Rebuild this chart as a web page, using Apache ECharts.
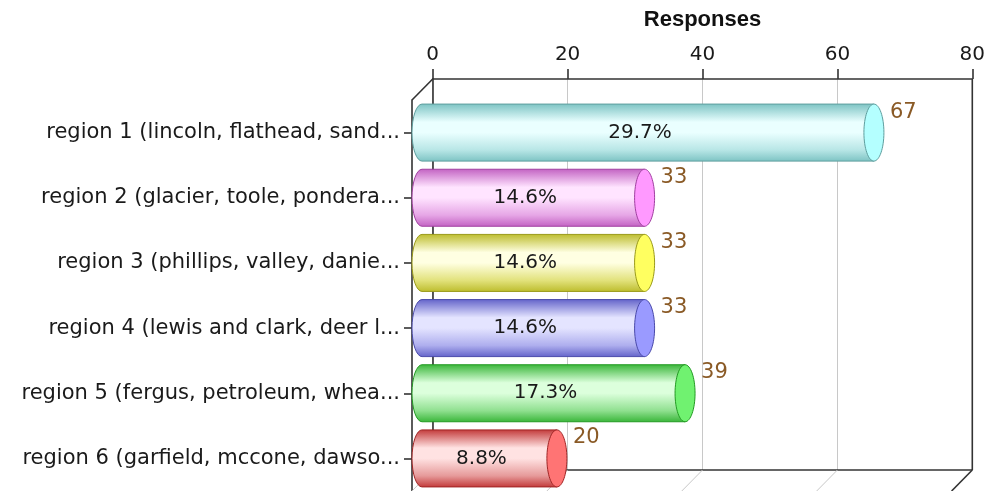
<!DOCTYPE html>
<html>
<head>
<meta charset="utf-8">
<title>Responses</title>
<script src="https://cdn.jsdelivr.net/npm/echarts@6/dist/echarts.min.js"></script>
<style>
  html, body { margin: 0; padding: 0; background: #fff; }
  #main { width: 1007px; height: 491px; }
</style>
</head>
<body>
<div id="main"></div>
<script>
// data
var categories = [
    'region 1 (lincoln, flathead, sand...',
    'region 2 (glacier, toole, pondera...',
    'region 3 (phillips, valley, danie...',
    'region 4 (lewis and clark, deer l...',
    'region 5 (fergus, petroleum, whea...',
    'region 6 (garfield, mccone, dawso...'
];
var responses = [67, 33, 33, 33, 39, 20];
var percents = ['29.7%', '14.6%', '14.6%', '14.6%', '17.3%', '8.8%'];
var xTicks = [0, 20, 40, 60, 80];

// cylinder colours: dark edge, light centre, end cap
var edgeColors = ['#7cc3c3', '#c261c2', '#bcbc2c', '#6262c9', '#38b538', '#c23838'];
var midColors = ['#b8e6e6', '#e6a6e6', '#e2e27c', '#aeaeee', '#90e090', '#e69a9a'];
var lightColors = ['#eaffff', '#ffe4ff', '#ffffe2', '#e4e4ff', '#dcffdc', '#ffe2e2'];
var capColors = ['#b4ffff', '#ff99ff', '#ffff60', '#9a9aff', '#70f270', '#ff7474'];
var lineColors = ['#5e9e9e', '#a040a0', '#9a9a1a', '#4a4aaa', '#239a23', '#a02525'];

// 3d depth of the plot box (front plane is shifted left/down)
var DX = -20.7, DY = 21;
var CAP_RX = 10;

var myChart = echarts.init(document.getElementById('main'));

function frameItem(params, api) {
    var cs = params.coordSys;
    var t = api.value(0);
    var x = api.coord([t, 0])[0];
    var top = cs.y, bottom = cs.y + cs.height;
    var dark = '#333';
    var last = t === xTicks[xTicks.length - 1];
    var children = [{
        type: 'line',
        shape: { x1: x, y1: bottom, x2: x + DX, y2: bottom + DY },
        style: { stroke: last ? dark : '#c8c8c8', lineWidth: last ? 1.6 : 1 }
    }];
    if (t === xTicks[0]) {
        children.push({
            type: 'line',
            shape: { x1: x, y1: top, x2: x + DX, y2: top + DY },
            style: { stroke: dark, lineWidth: 1.6 }
        });
        children.push({
            type: 'line',
            shape: { x1: cs.x, y1: bottom, x2: cs.x + cs.width, y2: bottom },
            style: { stroke: dark, lineWidth: 1.6 }
        });
    }
    if (last) {
        children.push({
            type: 'line',
            shape: { x1: x, y1: top, x2: x, y2: bottom },
            style: { stroke: dark, lineWidth: 1.6 }
        });
    }
    return { type: 'group', children: children };
}

function barItem(params, api) {
    var v = api.value(0), i = api.value(1);
    var start = api.coord([0, i]);
    var end = api.coord([v, i]);
    var band = api.size([0, 1])[1];
    var h = band * 0.875, ry = h / 2;
    var cy = start[1], top = cy - ry, bottom = cy + ry;
    var cxL = start[0] + CAP_RX, cxR = end[0] + CAP_RX;
    var path = 'M' + cxL + ',' + top + ' L' + cxR + ',' + top +
        ' L' + cxR + ',' + bottom + ' L' + cxL + ',' + bottom +
        ' A' + CAP_RX + ',' + ry + ' 0 0 1 ' + cxL + ',' + top + ' Z';
    return {
        type: 'group',
        children: [{
            type: 'path',
            shape: { pathData: path },
            style: {
                fill: new echarts.graphic.LinearGradient(0, 0, 0, 1, [
                    { offset: 0, color: edgeColors[i] },
                    { offset: 0.32, color: lightColors[i] },
                    { offset: 0.5, color: lightColors[i] },
                    { offset: 0.8, color: midColors[i] },
                    { offset: 1, color: edgeColors[i] }
                ]),
                stroke: lineColors[i],
                lineWidth: 1
            }
        }, {
            type: 'ellipse',
            shape: { cx: cxR, cy: cy, rx: CAP_RX, ry: ry },
            style: { fill: capColors[i], stroke: lineColors[i], lineWidth: 1 }
        }, {
            type: 'text',
            x: (start[0] + cxR) / 2 - 3,
            y: cy,
            style: {
                text: percents[i],
                fill: '#1a1a1a',
                font: '20px "DejaVu Sans"',
                align: 'center',
                verticalAlign: 'middle'
            }
        }, {
            type: 'text',
            x: cxR + CAP_RX + 6,
            y: top + 8,
            style: {
                text: String(v),
                fill: '#8a5a26',
                font: '21px "DejaVu Sans"',
                align: 'left',
                verticalAlign: 'middle'
            }
        }]
    };
}

var option = {
    animation: false,
    backgroundColor: '#fff',
    grid: [
        { left: 432.7, top: 79, width: 539.6, height: 391 },
        { left: 432.7 + DX, top: 79 + DY, width: 539.6, height: 391 }
    ],
    xAxis: [{
        gridIndex: 0,
        type: 'value',
        position: 'top',
        min: 0,
        max: 80,
        interval: 20,
        name: 'Responses',
        nameLocation: 'middle',
        nameGap: 59,
        nameTextStyle: { fontFamily: 'Liberation Sans', fontWeight: 'bold', fontSize: 22, color: '#111', verticalAlign: 'middle' },
        axisLine: { show: true, lineStyle: { color: '#333', width: 1.6 } },
        axisTick: { show: true, length: 10, lineStyle: { color: '#333', width: 1.6 } },
        axisLabel: { margin: 14, fontFamily: 'DejaVu Sans', fontSize: 20, color: '#1a1a1a' },
        splitLine: { show: true, lineStyle: { color: '#c8c8c8', width: 1 } }
    }, {
        gridIndex: 1,
        type: 'value',
        min: 0,
        max: 80,
        interval: 20,
        show: false
    }],
    yAxis: [{
        gridIndex: 0,
        type: 'category',
        inverse: true,
        data: categories,
        axisLine: { show: true, lineStyle: { color: '#333', width: 1.6 } },
        axisTick: { show: false },
        axisLabel: { show: false },
        splitLine: { show: false }
    }, {
        gridIndex: 1,
        type: 'category',
        inverse: true,
        data: categories,
        axisLine: { show: true, lineStyle: { color: '#333', width: 1.6 } },
        axisTick: { show: true, alignWithLabel: true, length: 8, lineStyle: { color: '#333', width: 1.6 } },
        axisLabel: { margin: 12, fontFamily: 'DejaVu Sans', fontSize: 21, color: '#1a1a1a' },
        splitLine: { show: false }
    }],
    series: [{
        name: 'frame',
        type: 'custom',
        xAxisIndex: 0,
        yAxisIndex: 0,
        z: 1,
        silent: true,
        renderItem: frameItem,
        data: xTicks.map(function (t) { return [t]; })
    }, {
        name: 'Responses',
        type: 'custom',
        xAxisIndex: 1,
        yAxisIndex: 1,
        z: 3,
        renderItem: barItem,
        encode: { x: 0, y: 1 },
        data: responses.map(function (v, i) { return [v, i]; })
    }]
};

myChart.setOption(option);
</script>
</body>
</html>
